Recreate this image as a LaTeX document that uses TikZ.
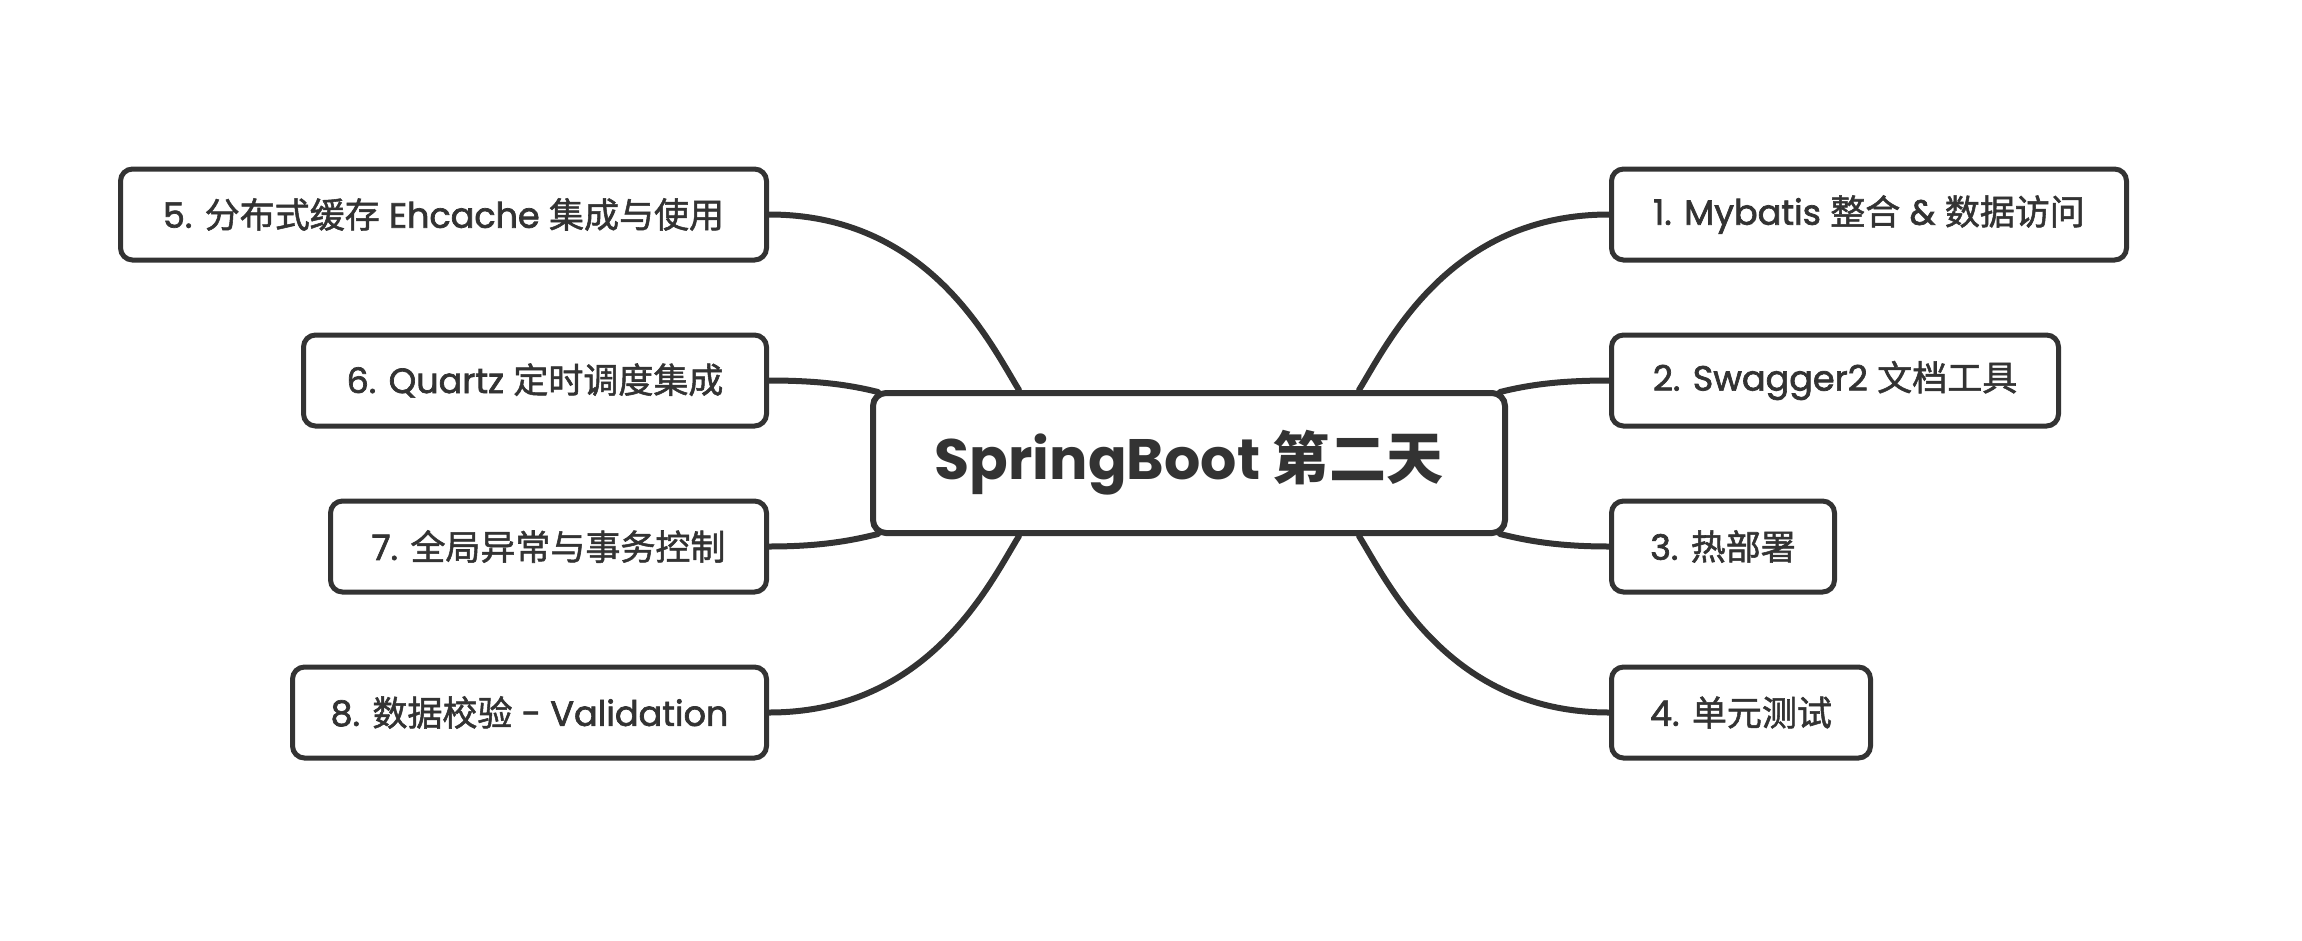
\documentclass[tikz,border=0pt]{standalone}
\usepackage{fontspec}
\setmainfont{Poppins}
\newfontfamily\cjk{Noto Sans CJK SC}
\newfontfamily\leaffont{Poppins}[FakeBold=2]
\newfontfamily\leafcjk{Noto Sans CJK SC}[FakeBold=1.5]
\usetikzlibrary{backgrounds}
\definecolor{ink}{HTML}{333333}
\newcommand{\zh}[1]{{\leafcjk #1}}
\begin{document}
\begin{tikzpicture}[x=1pt,y=-1pt,
  leaf/.style={draw=ink, line width=5pt, rounded corners=12pt, fill=white, minimum height=91pt, inner sep=0pt, text=ink, font=\fontsize{35}{42}\leaffont},
  root/.style={draw=ink, line width=6pt, rounded corners=13pt, fill=white, minimum width=632pt, minimum height=140pt, inner sep=0pt, text=ink, font=\fontsize{57}{68}\selectfont\bfseries},
  link/.style={draw=ink, line width=6pt, line cap=round}]
\useasboundingbox (0,0) rectangle (2302,940);
\node[root] (c) at (1189,463) {SpringBoot {\cjk 第二天}};
% left side
\node[leaf, anchor=east, minimum width=646pt] (b5) at (769,214.5) {5. \zh{分布式缓存} Ehcache \zh{集成与使用}};
\node[leaf, anchor=east, minimum width=463pt] (b6) at (769,380.5) {6. Quartz \zh{定时调度集成}};
\node[leaf, anchor=east, minimum width=436pt] (b7) at (769,546.5) {7. \zh{全局异常与事务控制}};
\node[leaf, anchor=east, minimum width=474pt] (b8) at (769,712.5) {8. \zh{数据校验} - Validation};
% right side
\node[leaf, anchor=west, minimum width=515pt] (b1) at (1609,214.5) {1. Mybatis \zh{整合} \& \zh{数据访问}};
\node[leaf, anchor=west, minimum width=447pt] (b2) at (1609,380.5) {2. Swagger2 \zh{文档工具}};
\node[leaf, anchor=west, minimum width=223pt] (b3) at (1609,546.5) {3. \zh{热部署}};
\node[leaf, anchor=west, minimum width=259pt] (b4) at (1609,712.5) {4. \zh{单元测试}};
\begin{scope}[on background layer]
\draw[link] (b5.east) .. controls +(160,0) and +(-29,-47) .. ([xshift=-170pt]c.north);
\draw[link] (b6.east) .. controls +(50,0) and +(-28,-7) .. ([xshift=8pt,yshift=-2pt]c.north west);
\draw[link] (b7.east) .. controls +(50,0) and +(-28,7) .. ([xshift=8pt,yshift=2pt]c.south west);
\draw[link] (b8.east) .. controls +(160,0) and +(-29,47) .. ([xshift=-170pt]c.south);
\draw[link] (b1.west) .. controls +(-160,0) and +(29,-47) .. ([xshift=170pt]c.north);
\draw[link] (b2.west) .. controls +(-50,0) and +(28,-7) .. ([xshift=-8pt,yshift=-2pt]c.north east);
\draw[link] (b3.west) .. controls +(-50,0) and +(28,7) .. ([xshift=-8pt,yshift=2pt]c.south east);
\draw[link] (b4.west) .. controls +(-160,0) and +(29,47) .. ([xshift=170pt]c.south);
\end{scope}
\end{tikzpicture}
\end{document}
